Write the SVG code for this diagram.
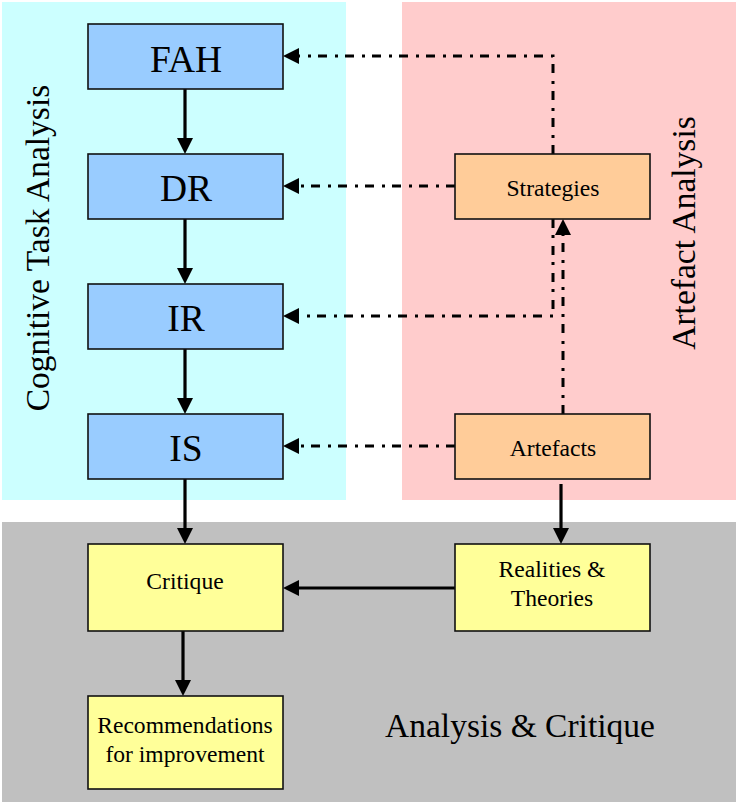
<svg xmlns="http://www.w3.org/2000/svg" width="736" height="802" viewBox="0 0 736 802">
  <style>
    .lbl { font-family: "Liberation Serif", "Times New Roman", serif; fill: #000; text-anchor: middle; }
    .big { font-size: 37.5px; }
    .mid { font-size: 23.6px; }
    .zone { font-size: 33.5px; }
    .box { stroke: #111; stroke-width: 1.6; }
    .blue { fill: #99CCFF; }
    .orange { fill: #FFCC99; }
    .yellow { fill: #FFFF99; }
    .solid { fill: none; stroke: #000; stroke-width: 3.2; marker-end: url(#ah); }
    .dashdot { fill: none; stroke: #000; stroke-width: 3; stroke-dasharray: 9 7 3 8; marker-end: url(#ah); }
    .dashdot-plain { fill: none; stroke: #000; stroke-width: 3; stroke-dasharray: 9 7 3 8; }
  </style>
  <defs>
    <marker id="ah" markerUnits="userSpaceOnUse" markerWidth="16" markerHeight="16" refX="2" refY="8" orient="auto">
      <path d="M0,0 L16,8 L0,16 z" fill="#000"/>
    </marker>
  </defs>

  <!-- background zones -->
  <g id="zones">
    <rect x="2" y="2" width="344" height="498" fill="#CCFFFF"/>
    <rect x="402" y="2" width="334" height="498" fill="#FFCCCC"/>
    <rect x="2" y="522" width="734" height="280" fill="#C0C0C0"/>
    <text class="lbl zone" transform="translate(49,248) rotate(-90)">Cognitive Task Analysis</text>
    <text class="lbl zone" transform="translate(695,233) rotate(-90)">Artefact Analysis</text>
    <text class="lbl zone" x="520" y="737">Analysis &amp; Critique</text>
  </g>

  <!-- connectors -->
  <g id="connectors">
    <line class="solid" x1="185" y1="89" x2="185" y2="140"/>
    <line class="solid" x1="185" y1="219" x2="185" y2="270"/>
    <line class="solid" x1="185" y1="349" x2="185" y2="400"/>
    <line class="solid" x1="185" y1="479" x2="185" y2="530"/>
    <line class="solid" x1="183" y1="631" x2="183" y2="682"/>
    <line class="solid" x1="561" y1="484" x2="561" y2="530"/>
    <line class="solid" x1="455" y1="588" x2="297" y2="588"/>

    <path class="dashdot" d="M553,154 L553,56 L297,56"/>
    <path class="dashdot" d="M455,186 L297,186"/>
    <path class="dashdot" d="M553,219 L553,316 L297,316"/>
    <path class="dashdot" d="M563,414 L563,233"/>
    <path class="dashdot" d="M455,446 L297,446"/>
  </g>

  <!-- nodes -->
  <g id="fah">
    <rect class="box blue" x="88" y="24" width="195" height="65"/>
    <text class="lbl big" x="186" y="72">FAH</text>
  </g>
  <g id="dr">
    <rect class="box blue" x="88" y="154" width="195" height="65"/>
    <text class="lbl big" x="186" y="201">DR</text>
  </g>
  <g id="ir">
    <rect class="box blue" x="88" y="284" width="195" height="65"/>
    <text class="lbl big" x="186" y="331">IR</text>
  </g>
  <g id="is">
    <rect class="box blue" x="88" y="414" width="195" height="65"/>
    <text class="lbl big" x="186" y="461">IS</text>
  </g>
  <g id="strategies">
    <rect class="box orange" x="455" y="154" width="195" height="65"/>
    <text class="lbl mid" x="553" y="196">Strategies</text>
  </g>
  <g id="artefacts">
    <rect class="box orange" x="455" y="414" width="195" height="65"/>
    <text class="lbl mid" x="553" y="456">Artefacts</text>
  </g>
  <g id="critique">
    <rect class="box yellow" x="88" y="544" width="195" height="87"/>
    <text class="lbl mid" x="185" y="589">Critique</text>
  </g>
  <g id="realities">
    <rect class="box yellow" x="455" y="544" width="195" height="87"/>
    <text class="lbl mid" x="552" y="577">Realities &amp;</text>
    <text class="lbl mid" x="552" y="606">Theories</text>
  </g>
  <g id="recommendations">
    <rect class="box yellow" x="88" y="696" width="195" height="93"/>
    <text class="lbl mid" x="185" y="733">Recommendations</text>
    <text class="lbl mid" x="185" y="762">for improvement</text>
  </g>
</svg>
